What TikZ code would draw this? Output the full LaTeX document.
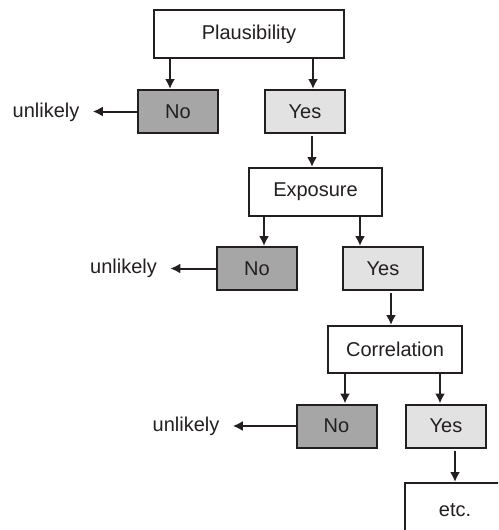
\documentclass[tikz,border=0pt]{standalone}
\usepackage{fontspec}
\setmainfont{Liberation Sans}
\usetikzlibrary{positioning}
\usetikzlibrary{arrows.meta}
\definecolor{nogray}{RGB}{166,166,166}
\definecolor{yesgray}{RGB}{226,226,226}
\definecolor{inkblack}{RGB}{35,31,32}

\begin{document}
\begin{tikzpicture}[x=0.5pt, y=-0.5pt, >={Latex[length=5pt,width=5pt]},
        stepbox/.style={draw=inkblack, line width=1pt, fill=white, text=inkblack, font=\fontsize{10}{12}\selectfont, inner sep=0pt, minimum height=24pt},
        nobox/.style={stepbox, fill=nogray, minimum width=40pt, minimum height=21.5pt},
        yesbox/.style={stepbox, fill=yesgray, minimum width=40pt, minimum height=21.5pt},
        outcome/.style={text=inkblack, font=\fontsize{10}{12}\selectfont, inner sep=0pt},
        arr/.style={draw=inkblack, line width=1pt, ->}]
        \useasboundingbox (0,0) rectangle (498,530);
        \clip (0,0) rectangle (498,530);

        %% Plausibility
        \node[stepbox, minimum width=95pt] (plaus) at (249,34) {Plausibility};
        \node[nobox] (no1) at (178,111.5) {No};
        \node[yesbox] (yes1) at (305,111.5) {Yes};
        \node[outcome] (unl1) at (46,112) {unlikely};

        \draw[arr] ([xshift=8.5pt]plaus.south west) -- ([xshift=8.5pt]plaus.south west |- no1.north);
        \draw[arr] ([xshift=-16pt]plaus.south east) -- ([xshift=-16pt]plaus.south east |- yes1.north);
        \draw[arr, shorten >=6.5pt] (no1.west) -- (no1.west -| unl1.east);

        %% Exposure
        \node[stepbox, minimum width=66.5pt] (expo) at (315.5,192) {Exposure};
        \node[nobox] (no2) at (257,268.5) {No};
        \node[yesbox] (yes2) at (383,268.5) {Yes};
        \node[outcome] (unl2) at (123.5,268) {unlikely};

        \draw[arr, shorten <=1pt] ([xshift=3.5pt]yes1.south) -- ([xshift=3.5pt]yes1.south |- expo.north);
        \draw[arr] ([xshift=8pt]expo.south west) -- ([xshift=8pt]expo.south west |- no2.north);
        \draw[arr] ([xshift=-11.5pt]expo.south east) -- ([xshift=-11.5pt]expo.south east |- yes2.north);
        \draw[arr, shorten >=6.5pt] (no2.west) -- (no2.west -| unl2.east);

        %% Correlation
        \node[stepbox, minimum width=67pt, minimum height=23.5pt] (corr) at (395,349.5) {Correlation};
        \node[nobox] (no3) at (336.5,426) {No};
        \node[yesbox] (yes3) at (446,426) {Yes};
        \node[outcome] (unl3) at (186,426) {unlikely};
        \node[stepbox, minimum width=50pt, minimum height=27.5pt] (etc) at (455,510.5) {etc.};

        \draw[arr, shorten <=1pt] ([xshift=4pt]yes2.south) -- ([xshift=4pt]yes2.south |- corr.north);
        \draw[arr] ([xshift=9pt]corr.south west) -- ([xshift=9pt]corr.south west |- no3.north);
        \draw[arr] ([xshift=-11.5pt]corr.south east) -- ([xshift=-11.5pt]corr.south east |- yes3.north);
        \draw[arr, shorten >=6.5pt] (no3.west) -- (no3.west -| unl3.east);
        \draw[arr, shorten <=1pt] ([xshift=4.5pt]yes3.south) -- ([xshift=4.5pt]yes3.south |- etc.north);

\end{tikzpicture}
\end{document}
